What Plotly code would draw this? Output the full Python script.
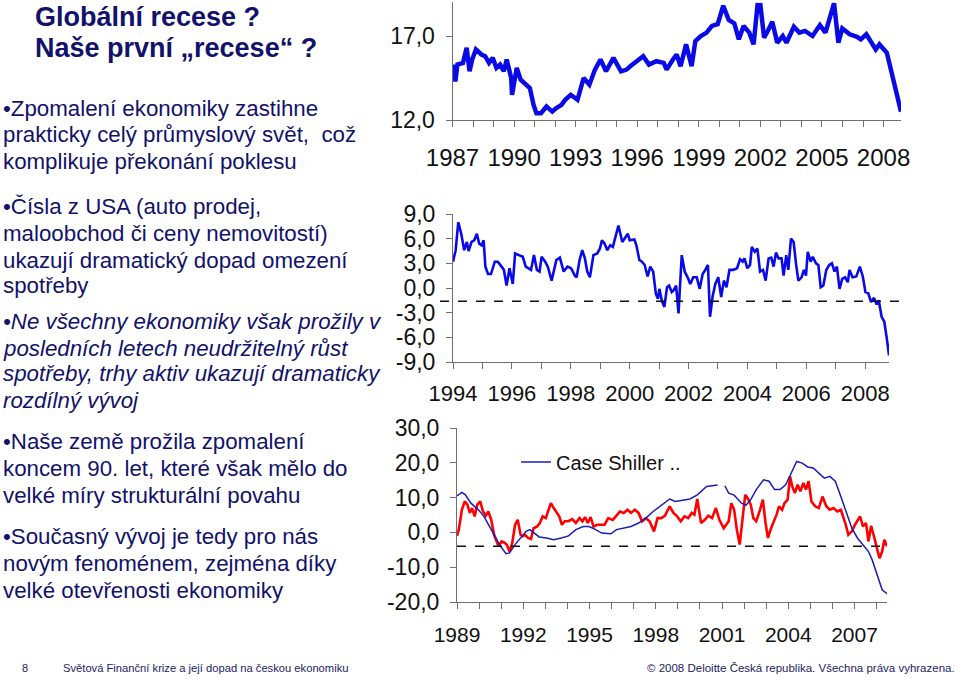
import plotly.graph_objects as go

# ---------------- data ----------------
# Chart 1: US light vehicle sales (mil., SAAR)
car_years = [1987.00, 1987.14, 1987.24, 1987.51, 1987.69, 1987.83, 1987.96, 1988.14, 1988.41, 1988.59,
             1988.78, 1988.96, 1989.14, 1989.32, 1989.50, 1989.64, 1989.86, 1989.90, 1990.13, 1990.32,
             1990.59, 1990.77, 1990.95, 1991.09, 1991.31, 1991.58, 1991.86, 1992.04, 1992.31, 1992.49,
             1992.76, 1993.09, 1993.39, 1993.67, 1993.94, 1994.21, 1994.48, 1994.84, 1995.21, 1995.48,
             1995.66, 1996.02, 1996.29, 1996.57, 1996.93, 1997.29, 1997.43, 1997.74, 1997.92, 1998.11,
             1998.38, 1998.65, 1998.83, 1999.10, 1999.38, 1999.64, 1999.92, 2000.19, 2000.46, 2000.73,
             2000.95, 2001.18, 2001.46, 2001.67, 2001.86, 2002.00, 2002.18, 2002.36, 2002.58, 2002.82,
             2003.09, 2003.27, 2003.63, 2003.90, 2004.17, 2004.54, 2004.90, 2005.17, 2005.44, 2005.59,
             2005.80, 2005.99, 2006.35, 2006.71, 2006.89, 2007.16, 2007.62, 2007.80, 2008.16, 2008.43,
             2008.61, 2008.85]
car_sales = [15.3, 14.3, 15.3, 15.4, 16.3, 14.9, 15.6, 16.2, 15.9, 15.8,
             15.4, 15.7, 15.1, 15.3, 14.9, 15.6, 14.5, 13.5, 15.1, 14.4,
             14.1, 13.9, 12.9, 12.4, 12.4, 12.8, 12.5, 12.7, 12.9, 13.2,
             13.5, 13.2, 14.5, 14.1, 15.0, 15.6, 14.9, 15.7, 14.9, 15.0,
             15.2, 15.5, 15.8, 15.3, 15.5, 15.4, 15.0, 15.6, 15.9, 15.2,
             16.5, 15.2, 16.7, 17.0, 17.2, 17.6, 17.7, 18.8, 17.95, 17.75,
             16.8, 17.6, 17.2, 16.5, 18.85, 18.85, 16.9, 17.3, 17.85, 16.6,
             17.0, 16.6, 17.55, 17.2, 17.3, 17.0, 17.65, 17.2, 18.25, 18.95,
             16.6, 17.45, 17.1, 16.95, 16.8, 17.1, 16.2, 16.5, 16.0, 14.6,
             13.6, 12.5]
car_yticks = [12, 17]
car_yticklabels = ["12,0", "17,0"]

# Chart 2: US retail sales, y/y %
retail_years = [1994.00, 1994.09, 1994.18, 1994.28, 1994.38, 1994.47, 1994.53, 1994.63, 1994.72, 1994.81,
                1994.89, 1994.97, 1995.04, 1995.10, 1995.19, 1995.29, 1995.42, 1995.52, 1995.65, 1995.73,
                1995.82, 1995.92, 1996.03, 1996.11, 1996.24, 1996.37, 1996.47, 1996.56, 1996.65, 1996.75,
                1996.85, 1996.94, 1997.01, 1997.13, 1997.22, 1997.35, 1997.51, 1997.63, 1997.76, 1997.89,
                1998.01, 1998.14, 1998.20, 1998.30, 1998.39, 1998.48, 1998.56, 1998.65, 1998.77, 1998.90,
                1998.99, 1999.06, 1999.15, 1999.24, 1999.34, 1999.43, 1999.53, 1999.62, 1999.75, 1999.85,
                1999.94, 2000.00, 2000.16, 2000.23, 2000.33, 2000.42, 2000.51, 2000.61, 2000.70, 2000.80,
                2000.89, 2000.96, 2001.01, 2001.09, 2001.18, 2001.27, 2001.34, 2001.43, 2001.49, 2001.58,
                2001.66, 2001.77, 2001.87, 2001.97, 2002.06, 2002.16, 2002.28, 2002.38, 2002.48, 2002.57,
                2002.66, 2002.73, 2002.82, 2002.91, 2003.01, 2003.11, 2003.20, 2003.29, 2003.39, 2003.52,
                2003.65, 2003.75, 2003.84, 2003.90, 2004.00, 2004.09, 2004.15, 2004.25, 2004.34, 2004.43,
                2004.53, 2004.62, 2004.72, 2004.81, 2004.89, 2004.97, 2005.06, 2005.16, 2005.23, 2005.32,
                2005.39, 2005.48, 2005.57, 2005.65, 2005.73, 2005.84, 2005.92, 2005.99, 2006.05, 2006.15,
                2006.22, 2006.33, 2006.41, 2006.49, 2006.58, 2006.68, 2006.78, 2006.87, 2006.96, 2007.04,
                2007.13, 2007.22, 2007.32, 2007.41, 2007.47, 2007.57, 2007.70, 2007.82, 2007.92, 2008.01,
                2008.10, 2008.20, 2008.30, 2008.39, 2008.46, 2008.56, 2008.65, 2008.73, 2008.81]
retail_yoy = [3.2, 4.6, 8.0, 6.6, 4.6, 5.6, 4.5, 5.6, 5.8, 6.6,
              5.4, 5.2, 5.8, 2.6, 1.7, 1.7, 3.2, 3.2, 2.6, 2.2,
              0.3, 2.4, 0.5, 4.2, 4.0, 3.8, 2.6, 2.4, 2.2, 4.0,
              2.2, 2.0, 3.8, 3.2, 2.6, 0.9, 3.4, 3.7, 2.0, 2.6,
              2.4, 1.5, 1.3, 3.4, 4.6, 3.6, 2.0, 1.3, 4.0, 4.2,
              4.8, 5.8, 5.4, 4.6, 5.2, 5.0, 6.4, 7.6, 5.6, 6.2,
              6.6, 5.8, 5.9, 5.2, 3.4, 3.2, 2.8, 1.4, 2.6, 2.0,
              -0.7, -1.3, -0.1, -1.5, -2.3, 0.1, 0.3, -0.5, -0.3, 0.3,
              -3.1, 4.0, 2.0, 1.3, 0.5, 1.3, 1.3, -0.1, 1.7, 2.2,
              2.8, -3.5, -1.0, 0.5, 1.3, -1.1, 0.9, 0.1, 2.2, 2.2,
              2.4, 3.5, 3.2, 3.6, 2.4, 2.8, 5.0, 4.4, 4.8, 2.0,
              2.2, 0.9, 3.6, 3.7, 2.6, 4.3, 3.6, 3.6, 1.5, 4.0,
              2.2, 6.0, 5.6, 3.0, 0.9, 1.3, 2.2, 1.5, 4.4, 3.2,
              3.8, 3.0, 2.8, 0.1, 0.3, 2.2, 2.8, 3.0, 2.0, 2.6,
              -0.1, 1.1, 1.3, 0.7, 2.2, 1.3, 1.4, 2.6, 1.4, -0.5,
              -0.6, -1.7, -1.2, -2.0, -1.5, -3.5, -4.1, -6.0, -8.2]
retail_threshold = -1.6
retail_yticks = [-9, -6, -3, 0, 3, 6, 9]
retail_yticklabels = ["-9,0", "-6,0", "-3,0", "0,0", "3,0", "6,0", "9,0"]

# Chart 3: Case Shiller house prices (blue) and second series (red), y/y %
cs_years = [1989.00, 1989.22, 1989.38, 1989.63, 1989.97, 1990.22, 1990.47, 1990.72, 1990.97, 1991.22,
            1991.38, 1991.63, 1991.88, 1992.13, 1992.30, 1992.47, 1992.72, 1993.05, 1993.38, 1993.72,
            1994.05, 1994.38, 1994.72, 1994.97, 1995.22, 1995.55, 1995.97, 1996.22, 1996.55, 1996.88,
            1997.22, 1997.55, 1997.88, 1998.30, 1998.63, 1998.88, 1999.22, 1999.55, 1999.88, 2000.30,
            2000.55, 2000.80, 2000.95, 2001.13, 2001.30, 2001.55, 2001.88, 2002.08, 2002.30, 2002.55,
            2002.88, 2003.13, 2003.38, 2003.63, 2003.88, 2004.13, 2004.38, 2004.63, 2004.88, 2005.13,
            2005.38, 2005.63, 2005.88, 2006.13, 2006.38, 2006.63, 2006.88, 2007.13, 2007.38, 2007.63,
            2007.80, 2007.97, 2008.13, 2008.25, 2008.47]
cs_yoy = [10.5, 11.5, 10.8, 8.4, 6.5, 4.6, 1.7, -1.1, -4.0, -6.1,
          -5.9, -3.5, -1.6, 0.3, 0.8, 0.0, -1.3, -1.6, -2.1, -1.6,
          -1.0, 0.8, 1.7, 1.7, 1.0, -0.2, -0.4, 0.8, 1.2, 1.7,
          2.7, 4.1, 6.0, 8.0, 9.6, 8.9, 9.2, 9.6, 10.8, 13.2,
          13.4, 13.6, None, 13.4, 11.3, 10.7, 8.4, 7.8, 9.4, 12.3,
          15.1, 14.7, 12.3, 12.3, 13.7, 17.0, 20.4, 19.9, 18.8, 18.5,
          17.0, 15.6, 16.1, 14.7, 10.3, 5.6, 1.2, -1.6, -3.5, -5.5,
          -7.9, -11.2, -14.6, -16.5, -17.6]
red_years = [1989.00, 1989.08, 1989.22, 1989.35, 1989.47, 1989.58, 1989.68, 1989.80, 1989.92, 1990.05,
             1990.18, 1990.30, 1990.42, 1990.55, 1990.68, 1990.80, 1990.88, 1991.02, 1991.13, 1991.25,
             1991.38, 1991.50, 1991.63, 1991.75, 1991.88, 1991.97, 1992.08, 1992.22, 1992.35, 1992.47,
             1992.63, 1992.75, 1992.88, 1993.02, 1993.13, 1993.25, 1993.38, 1993.52, 1993.63, 1993.75,
             1993.88, 1994.05, 1994.22, 1994.38, 1994.55, 1994.68, 1994.80, 1994.92, 1995.05, 1995.18,
             1995.35, 1995.52, 1995.68, 1995.85, 1996.05, 1996.22, 1996.38, 1996.55, 1996.72, 1996.88,
             1997.05, 1997.22, 1997.38, 1997.55, 1997.72, 1997.92, 1998.08, 1998.25, 1998.42, 1998.63,
             1998.80, 1998.97, 1999.13, 1999.30, 1999.47, 1999.63, 1999.75, 1999.88, 2000.05, 2000.22,
             2000.38, 2000.55, 2000.72, 2000.88, 2001.08, 2001.30, 2001.42, 2001.55, 2001.67, 2001.80,
             2001.93, 2002.05, 2002.18, 2002.30, 2002.42, 2002.55, 2002.72, 2002.85, 2002.97, 2003.08,
             2003.22, 2003.35, 2003.47, 2003.58, 2003.72, 2003.83, 2003.97, 2004.08, 2004.18, 2004.30,
             2004.42, 2004.55, 2004.68, 2004.80, 2004.92, 2005.05, 2005.22, 2005.38, 2005.55, 2005.72,
             2005.88, 2006.05, 2006.22, 2006.38, 2006.58, 2006.72, 2006.88, 2007.02, 2007.13, 2007.25,
             2007.38, 2007.52, 2007.63, 2007.75, 2007.88, 2008.02, 2008.13, 2008.25, 2008.35, 2008.47]
red_yoy = [-1.0, 0.8, 6.5, 8.9, 8.0, 5.6, 7.0, 4.6, 8.0, 8.9,
           6.0, 4.8, 6.0, 3.6, -0.7, -3.1, -4.0, -2.6, -2.9, -3.5,
           -5.5, -3.1, 2.2, 3.6, -0.7, -1.1, -0.7, -1.6, -1.9, 1.2,
           1.7, 2.7, 4.6, 4.1, 6.5, 8.4, 7.0, 5.6, 4.6, 2.2,
           3.2, 3.2, 3.8, 2.7, 4.1, 3.2, 4.4, 2.7, 4.4, 1.7,
           2.2, 2.2, 2.2, 4.1, 3.6, 4.8, 6.0, 5.6, 6.5, 5.6,
           6.5, 5.6, 3.2, 4.1, 3.2, 0.3, 4.1, 4.1, 4.8, 7.5,
           5.6, 4.6, 3.2, 4.6, 4.1, 5.6, 5.1, 9.6, 2.7, 3.6,
           4.8, 4.1, 7.0, 3.6, 1.2, 3.2, 8.4, 6.5, 0.8, -3.5,
           3.6, 10.8, 9.6, 8.0, 4.1, 3.2, 6.5, 9.4, 2.7, -1.6,
           1.2, 3.2, 5.1, 7.5, 6.5, 8.4, 9.4, 16.1, 13.2, 11.3,
           13.7, 11.8, 14.2, 12.3, 14.7, 8.9, 7.5, 7.0, 10.3, 7.5,
           6.5, 7.0, 6.0, 6.5, 2.7, -0.7, 0.3, 2.2, 3.2, 4.6,
           1.7, 2.7, -2.6, 1.9, -1.1, -5.0, -7.4, -5.5, -2.1, -4.0]
house_threshold = -4.0
house_yticks = [-20, -10, 0, 10, 20, 30]
house_yticklabels = ["-20,0", "-10,0", "0,0", "10,0", "20,0", "30,0"]
legend_label = "Case Shiller .."

title_lines = ["Globální recese ?", "Naše první „recese“ ?"]
body_lines = [
    ("•Zpomalení ekonomiky zastihne", False),
    ("prakticky celý průmyslový svět,  což", False),
    ("komplikuje překonání poklesu", False),
    ("•Čísla z USA (auto prodej,", False),
    ("maloobchod či ceny nemovitostí)", False),
    ("ukazují dramatický dopad omezení", False),
    ("spotřeby", False),
    ("•Ne všechny ekonomiky však prožily v", True),
    ("posledních letech neudržitelný růst", True),
    ("spotřeby, trhy aktiv ukazují dramaticky", True),
    ("rozdílný vývoj", True),
    ("•Naše země prožila zpomalení", False),
    ("koncem 90. let, které však mělo do", False),
    ("velké míry strukturální povahu", False),
    ("•Současný vývoj je tedy pro nás", False),
    ("novým fenoménem, zejména díky", False),
    ("velké otevřenosti ekonomiky", False),
]
body_baselines = [115, 142, 168, 213, 240, 267, 292, 328, 355, 380, 407, 448, 475, 502, 543, 570, 597]
footer_left_num = "8"
footer_left = "Světová Finanční krize a její dopad na českou ekonomiku"
footer_right = "© 2008 Deloitte Česká republika. Všechna práva vyhrazena."

# ---------------- figure ----------------
W, H = 960, 680
FONT = "Liberation Sans, Arial, sans-serif"
NAVY = "#12126a"
AX = "#707070"


def px(x):
    return x / W


def py(y):
    return 1 - y / H


fig = go.Figure()
fig.add_trace(go.Scatter(x=car_years, y=car_sales, mode="lines", xaxis="x", yaxis="y",
                         line=dict(color="#0a0ae6", width=4.5), showlegend=False))
fig.add_trace(go.Scatter(x=retail_years, y=retail_yoy, mode="lines", xaxis="x2", yaxis="y2",
                         line=dict(color="#0a0ae6", width=2.6), showlegend=False))
fig.add_trace(go.Scatter(x=red_years, y=red_yoy, mode="lines", xaxis="x3", yaxis="y3",
                         line=dict(color="#ff0000", width=2.6), showlegend=False))
fig.add_trace(go.Scatter(x=cs_years, y=cs_yoy, mode="lines", xaxis="x3", yaxis="y3",
                         name=legend_label, connectgaps=False,
                         line=dict(color="#1c1cb4", width=1.5), showlegend=True))


def xaxis(domain, rng, start, end, step, size, standoff):
    vals = list(range(start, end + 1))
    text = [str(v) if (v - start) % step == 0 else "" for v in vals]
    return dict(domain=domain, range=rng, tickmode="array", tickvals=vals, ticktext=text,
                ticks="outside", ticklen=6, tickcolor=AX, tickwidth=1, automargin=False,
                showline=True, linecolor=AX, linewidth=1, showgrid=False, zeroline=False,
                tickfont=dict(size=size, color="#111", family=FONT), ticklabelstandoff=standoff,
                fixedrange=True)


def yaxis(domain, rng, vals, text, size, standoff):
    return dict(domain=domain, range=rng, tickmode="array", tickvals=vals, ticktext=text,
                ticks="outside", ticklen=6, tickcolor=AX, tickwidth=1, automargin=False,
                showline=True, linecolor=AX, linewidth=1, showgrid=False, zeroline=False,
                tickfont=dict(size=size, color="#111", family=FONT), ticklabelstandoff=standoff,
                fixedrange=True)


fig.update_layout(
    template="none",
    width=W, height=H, margin=dict(l=0, r=0, t=0, b=0, pad=0, autoexpand=False),
    paper_bgcolor="white", plot_bgcolor="rgba(0,0,0,0)",
    font=dict(family=FONT, color="#111"),
    xaxis=dict(**xaxis([px(452.5), px(901)], [1987, 2008.85], 1987, 2008, 3, 24, 10), anchor="y"),
    yaxis=dict(**yaxis([py(120), py(2.4)], [12, 19], car_yticks, car_yticklabels, 23, 6), anchor="x"),
    xaxis2=dict(**xaxis([px(453), px(889)], [1994, 2008.81], 1994, 2008, 2, 22, 6), anchor="y2"),
    yaxis2=dict(**yaxis([py(362), py(214)], [-9, 9], retail_yticks, retail_yticklabels, 23, 6), anchor="x2"),
    xaxis3=dict(**xaxis([px(457), px(887)], [1989, 2008.47], 1989, 2008, 3, 21, 8), anchor="y3"),
    yaxis3=dict(**yaxis([py(602), py(428)], [-20, 30], house_yticks, house_yticklabels, 23, 6), anchor="x3"),
    legend=dict(x=px(516), y=py(462), xanchor="left", yanchor="middle", bgcolor="rgba(0,0,0,0)",
                font=dict(size=20, color="#111", family=FONT), itemwidth=30),
    shapes=[
        dict(type="line", xref="paper", yref="y2", x0=px(440), x1=px(908),
             y0=retail_threshold, y1=retail_threshold, line=dict(color="#111", width=1.5, dash="dash")),
        dict(type="line", xref="x3 domain", yref="y3", x0=0, x1=1,
             y0=house_threshold, y1=house_threshold, line=dict(color="#111", width=1.5, dash="dash")),
    ],
)

ann = []
for i, t in enumerate(title_lines):
    ann.append(dict(text="<b>" + t + "</b>", x=px(33), y=py(17 + 31 * i), xref="paper", yref="paper",
                    xanchor="left", yanchor="middle", showarrow=False,
                    font=dict(size=27, color=NAVY, family=FONT)))
for (t, it), b in zip(body_lines, body_baselines):
    txt = "<i>" + t + "</i>" if it else t
    ann.append(dict(text=txt, x=px(1), y=py(b - 7), xref="paper", yref="paper",
                    xanchor="left", yanchor="middle", showarrow=False,
                    font=dict(size=22.3, color=NAVY, family=FONT)))
ann.append(dict(text=footer_left_num, x=px(25), y=py(668), xref="paper", yref="paper",
                xanchor="center", yanchor="middle", showarrow=False,
                font=dict(size=11, color="#222266", family=FONT)))
ann.append(dict(text=footer_left, x=px(61), y=py(668), xref="paper", yref="paper",
                xanchor="left", yanchor="middle", showarrow=False,
                font=dict(size=11.2, color="#222266", family=FONT)))
ann.append(dict(text=footer_right, x=px(957), y=py(668), xref="paper", yref="paper",
                xanchor="right", yanchor="middle", showarrow=False,
                font=dict(size=11.5, color="#222266", family=FONT)))
fig.update_layout(annotations=ann)

fig.write_html("out.html", config={"displayModeBar": False},
               post_script="document.body.style.margin='0px';document.body.style.overflow='hidden';")
